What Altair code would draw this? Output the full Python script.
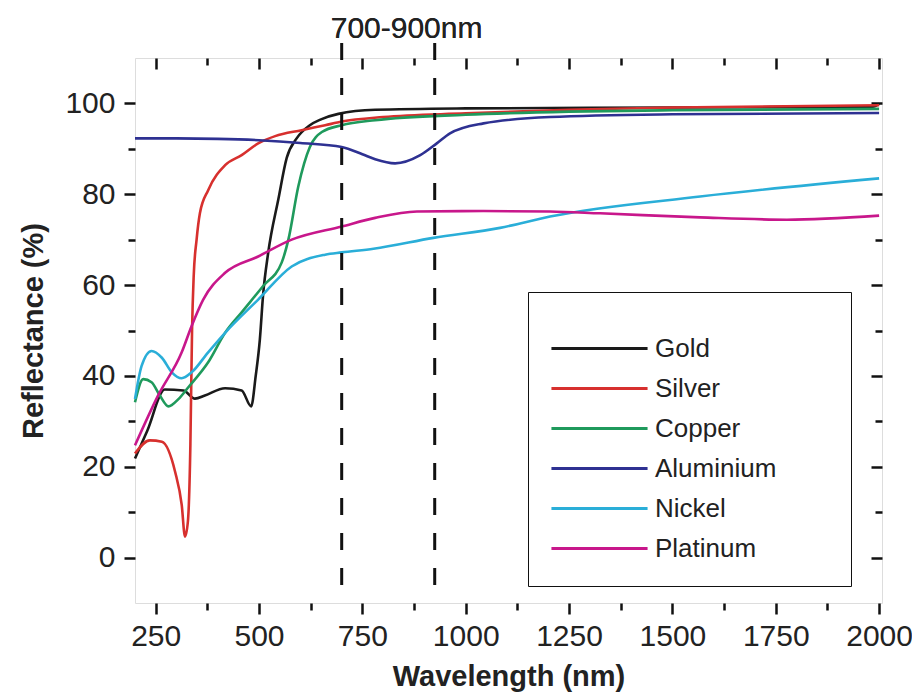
import altair as alt
import pandas as pd

metals = ["Gold", "Silver", "Copper", "Aluminium", "Nickel", "Platinum"]
colors = ["#1a1a1a", "#d7302e", "#1f9a5c", "#2e3192", "#2aaed8", "#c8178b"]

gold_x = [200, 230, 272, 317, 345, 369, 418, 458, 481, 492, 502, 510, 522, 547, 567, 591, 623, 650, 692, 781, 1000, 1500, 1985, 2000]
gold_y = [21.8, 28, 37, 36.8, 35, 35.7, 37.3, 36.8, 33.3, 40, 48, 58, 67, 79, 88, 92.3, 95.2, 96.5, 97.7, 98.6, 98.9, 99.1, 99.3, 99.9]

silver_x = [200, 236, 265, 297, 313, 321, 328, 334, 338, 342, 349, 357, 377, 418, 458, 498, 539, 603, 660, 700, 800, 1000, 1250, 1500, 2000]
silver_y = [22.9, 25.8, 25.5, 18.9, 11.6, 4.6, 8, 25, 50, 62, 70, 75.8, 80.9, 86.4, 88.6, 91.2, 92.8, 94.1, 95.2, 96, 97, 97.8, 98.6, 99.1, 99.6]

copper_x = [200, 220, 240, 260, 281, 305, 329, 377, 418, 458, 510, 555, 571, 595, 623, 652, 700, 781, 1000, 1250, 1500, 2000]
copper_y = [34.2, 39.3, 38.6, 35.7, 33.3, 34.9, 37.5, 43, 49.5, 54, 59.8, 65, 70, 81.7, 90.4, 93.7, 95.2, 96.3, 97.5, 98.2, 98.5, 98.8]

alu_x = [200, 300, 400, 500, 600, 700, 750, 781, 829, 890, 930, 962, 1043, 1204, 1500, 2000]
alu_y = [92.3, 92.3, 92.2, 91.9, 91.3, 90.4, 88.8, 87.7, 86.8, 88.6, 91.2, 93.4, 95.6, 97.0, 97.6, 97.9]

nickel_x = [200, 216, 240, 265, 289, 313, 337, 377, 418, 498, 579, 660, 700, 777, 922, 1083, 1204, 1567, 2000]
nickel_y = [34.9, 42.2, 45.5, 44, 40.8, 39.5, 40.8, 45.2, 49.5, 56.8, 64.1, 66.7, 67.2, 68, 70.4, 72.6, 75.1, 79.5, 83.5]

plat_x = [200, 256, 313, 337, 365, 418, 498, 579, 700, 781, 882, 1043, 1204, 1325, 1567, 1777, 2000]
plat_y = [24.7, 35.7, 45.2, 51, 56.8, 62.7, 66.3, 70, 72.9, 74.8, 76.2, 76.3, 76.2, 75.8, 74.9, 74.4, 75.3]

x_major = [250, 500, 750, 1000, 1250, 1500, 1750, 2000]
x_minor = [375, 625, 875, 1125, 1375, 1625, 1875]
y_major = [0, 20, 40, 60, 80, 100]
y_minor = [10, 30, 50, 70, 90]

band_lines = [700, 925]
band_label = "700-900nm"
band_label_x = 857

series = [gold_x, silver_x, copper_x, alu_x, nickel_x, plat_x]
values = [gold_y, silver_y, copper_y, alu_y, nickel_y, plat_y]
rows = []
for m, xs, ys in zip(metals, series, values):
    for xv, yv in zip(xs, ys):
        rows.append({"metal": m, "wl": xv, "R": yv})
df = pd.DataFrame(rows)
vdf = pd.DataFrame({"wl": band_lines})

FONT = "Liberation Sans"
xscale = alt.Scale(domain=[200, 2007], nice=False, zero=False)
yscale = alt.Scale(domain=[-10, 110], nice=False, zero=False)

def ax(orient, vals, size, labels=False, title=None, offset=0, **kw):
    d = dict(orient=orient, values=vals, tickSize=size, labels=labels, domain=False,
             grid=False, tickColor="#111", tickWidth=2.5, offset=offset)
    d["title"] = title
    d.update(kw)
    return alt.Axis(**d)

# widen the legend frame: trailing non-breaking spaces kept by a zero-width space
pad_label = "datum.label + '" + "\u00a0" * 7 + "\u200b'"

lines = alt.Chart(df).mark_line(strokeWidth=2.6, interpolate="monotone").encode(
    x=alt.X("wl:Q", scale=xscale,
            axis=ax("bottom", x_major, 11, labels=True, title="Wavelength (nm)",
                    format="d",
                    labelFontSize=30, labelFont=FONT, labelColor="#222", labelPadding=7,
                    titleFontSize=29, titleFont=FONT, titleFontWeight="bold",
                    titleColor="#222", titlePadding=11)),
    y=alt.Y("R:Q", scale=yscale,
            axis=ax("left", y_major, 11, labels=True, title="Reflectance (%)",
                    format="d",
                    labelFontSize=30, labelFont=FONT, labelColor="#222", labelPadding=9,
                    titleFontSize=29, titleFont=FONT, titleFontWeight="bold",
                    titleColor="#222", titlePadding=16)),
    color=alt.Color("metal:N", scale=alt.Scale(domain=metals, range=colors),
                    legend=alt.Legend(orient="none", legendX=393, legendY=234,
                                      title="\u00a0", titleFontSize=13,
                                      titlePadding=0,
                                      symbolType="M-2.67,0H2.67", symbolSize=1296,
                                      symbolStrokeWidth=3, symbolOffset=28,
                                      labelFontSize=26, labelFont=FONT,
                                      labelColor="#222", labelOffset=36,
                                      labelExpr=pad_label, labelLimit=400,
                                      rowPadding=7, padding=24,
                                      strokeColor="#111", fillColor="white")),
    order=alt.Order("wl:Q"),
)

dashed = alt.Chart(vdf).mark_rule(color="#111", strokeWidth=3, strokeDash=[17, 18]).encode(
    x=alt.X("wl:Q", scale=xscale, axis=ax("bottom", x_minor, 7)),
    y=alt.Y(datum=113.3, scale=yscale, axis=ax("left", y_minor, 7)),
    y2=alt.Y2(datum=-9),
)

label = alt.Chart(vdf).mark_text(fontSize=30, font=FONT, color="#222",
                                  baseline="alphabetic", align="center").encode(
    x=alt.X(datum=band_label_x, scale=xscale, axis=ax("top", x_major, 11, offset=-11)),
    y=alt.Y(datum=114.4, scale=yscale, axis=ax("right", y_major, 11, offset=-11)),
    text=alt.value(band_label),
)

topticks = alt.Chart(vdf).mark_rule(color="#111", strokeWidth=3, opacity=0).encode(
    x=alt.X("wl:Q", scale=xscale, axis=ax("top", x_minor, 7, offset=-7)),
    y=alt.Y(datum=110, scale=yscale, axis=ax("right", y_minor, 7, offset=-7)),
    y2=alt.Y2(datum=109),
)

chart = alt.layer(lines, dashed, label, topticks).resolve_axis(
    x="independent", y="independent"
).properties(
    width=747, height=545,
    autosize=alt.AutoSizeParams(type="none"),
    padding={"left": 127, "top": 50, "right": 30, "bottom": 89},
).configure_view(stroke="#111", strokeWidth=2.5).configure_legend(
    strokeWidth=2.5
).configure(background="white")

chart.save("out.html", embed_options={"renderer": "svg", "actions": False})
